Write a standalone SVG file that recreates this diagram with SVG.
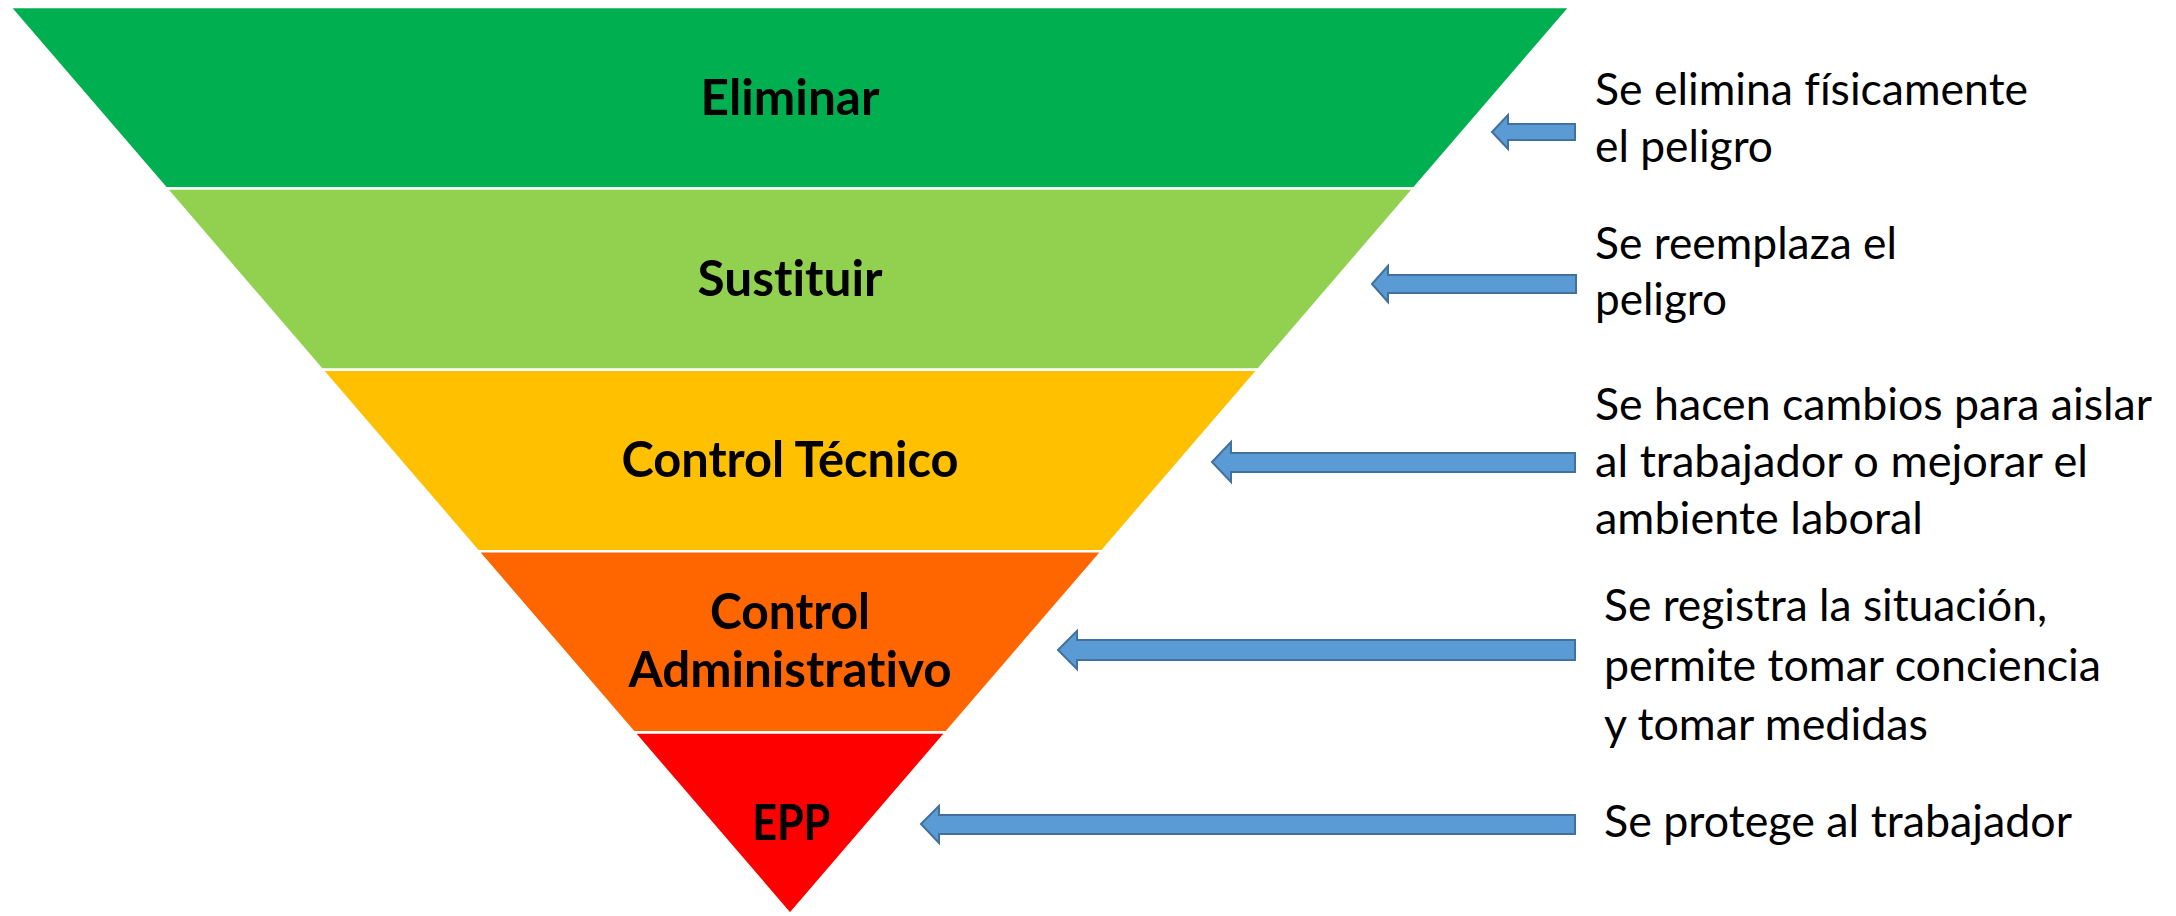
<svg xmlns="http://www.w3.org/2000/svg" width="2176" height="916" viewBox="0 0 2176 916">
  <style>
    .band { stroke: #ffffff; stroke-width: 2.5; stroke-linejoin: miter; }
    text { font-variant-ligatures: none; font-feature-settings: "liga" 0, "clig" 0, "dlig" 0; }
    .label { font-family: Lato, "Open Sans", "Liberation Sans", sans-serif; font-weight: 700; font-size: 50px; fill: #000000; text-anchor: middle; }
    .note { font-family: Lato, "Open Sans", "Liberation Sans", sans-serif; font-weight: 400; font-size: 44px; fill: #000000; }
    .arrow { fill: #5B9BD5; stroke: #41719C; stroke-width: 2; stroke-linejoin: miter; }
  </style>
  <rect width="2176" height="916" fill="#ffffff"/>

  <!-- inverted pyramid of control levels -->
  <g id="level-eliminar">
    <polygon class="band" fill="#00B050" points="10,7 1570,7 1414,188.4 166,188.4"/>
    <text class="label" x="790" y="115" textLength="179" lengthAdjust="spacingAndGlyphs">Eliminar</text>
  </g>
  <g id="level-sustituir">
    <polygon class="band" fill="#92D050" points="166,188.4 1414,188.4 1258,369.8 322,369.8"/>
    <text class="label" x="790" y="296" textLength="185" lengthAdjust="spacingAndGlyphs">Sustituir</text>
  </g>
  <g id="level-tecnico">
    <polygon class="band" fill="#FFC000" points="322,369.8 1258,369.8 1102,551.2 478,551.2"/>
    <text class="label" x="790" y="477" textLength="337" lengthAdjust="spacingAndGlyphs">Control Técnico</text>
  </g>
  <g id="level-administrativo">
    <polygon class="band" fill="#FF6600" points="478,551.2 1102,551.2 946,732.6 634,732.6"/>
    <text class="label" x="790" y="629" textLength="160" lengthAdjust="spacingAndGlyphs">Control</text>
    <text class="label" x="790" y="687" textLength="323" lengthAdjust="spacingAndGlyphs">Administrativo</text>
  </g>
  <g id="level-epp">
    <polygon class="band" fill="#FF0000" points="634,732.6 946,732.6 790,914"/>
    <text class="label" x="791" y="840" textLength="78" lengthAdjust="spacingAndGlyphs">EPP</text>
  </g>

  <!-- block arrows pointing from each description to its level -->
  <g id="connectors">
    <polygon class="arrow" points="1492,132 1508,115 1508,124 1575,124 1575,140 1508,140 1508,149"/>
    <polygon class="arrow" points="1372,284 1388,266 1388,275 1576,275 1576,293 1388,293 1388,302"/>
    <polygon class="arrow" points="1212,462 1231,442 1231,453 1575,453 1575,472 1231,472 1231,482"/>
    <polygon class="arrow" points="1058,650 1077,631 1077,640 1575,640 1575,660 1077,660 1077,669"/>
    <polygon class="arrow" points="921,824 939,806 939,815 1575,815 1575,834 939,834 939,843"/>
  </g>

  <!-- descriptions -->
  <g id="desc-eliminar">
    <text class="note" x="1595" y="105" textLength="433" lengthAdjust="spacingAndGlyphs">Se elimina físicamente</text>
    <text class="note" x="1595" y="162" textLength="178" lengthAdjust="spacingAndGlyphs">el peligro</text>
  </g>
  <g id="desc-sustituir">
    <text class="note" x="1595" y="259" textLength="302" lengthAdjust="spacingAndGlyphs">Se reemplaza el</text>
    <text class="note" x="1595" y="315" textLength="132" lengthAdjust="spacingAndGlyphs">peligro</text>
  </g>
  <g id="desc-tecnico">
    <text class="note" x="1595" y="420" textLength="557" lengthAdjust="spacingAndGlyphs">Se hacen cambios para aislar</text>
    <text class="note" x="1595" y="477" textLength="493" lengthAdjust="spacingAndGlyphs">al trabajador o mejorar el</text>
    <text class="note" x="1595" y="534" textLength="328" lengthAdjust="spacingAndGlyphs">ambiente laboral</text>
  </g>
  <g id="desc-administrativo">
    <text class="note" x="1604" y="621" textLength="443" lengthAdjust="spacingAndGlyphs">Se registra la situación,</text>
    <text class="note" x="1604" y="681" textLength="497" lengthAdjust="spacingAndGlyphs">permite tomar conciencia</text>
    <text class="note" x="1604" y="740" textLength="324" lengthAdjust="spacingAndGlyphs">y tomar medidas</text>
  </g>
  <g id="desc-epp">
    <text class="note" x="1604" y="837" textLength="468" lengthAdjust="spacingAndGlyphs">Se protege al trabajador</text>
  </g>
</svg>
